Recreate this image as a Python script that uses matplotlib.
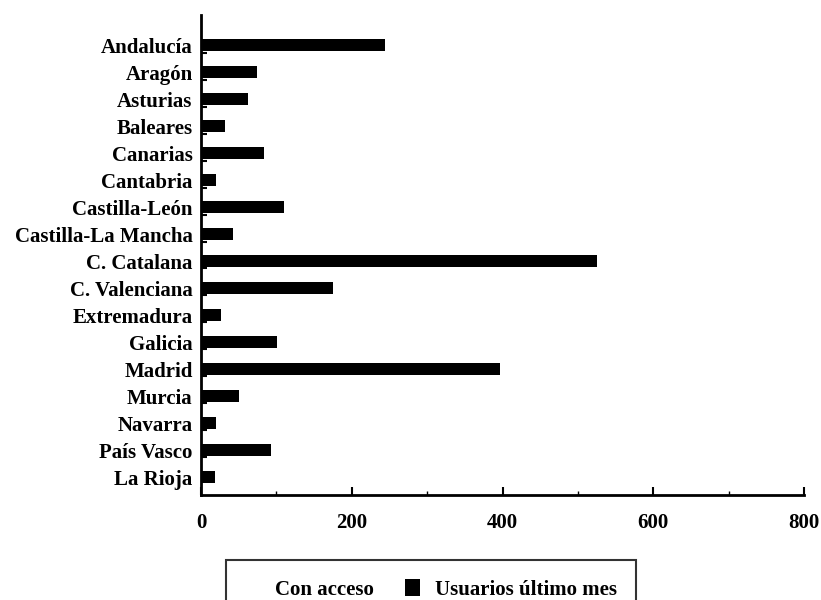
import matplotlib.pyplot as plt
from matplotlib import rcParams
from matplotlib.ticker import MultipleLocator, FixedLocator
import numpy as np

config = {"font.family": ['Liberation Serif', 'DejaVu Serif'],
          "font.weight": 'bold', "font.size": 15}
rcParams.update(config)

### datos ##########################################################
regiones = ["Andalucía", "Aragón", "Asturias", "Baleares", "Canarias",
            "Cantabria", "Castilla-León", "Castilla-La Mancha", "C. Catalana",
            "C. Valenciana", "Extremadura", "Galicia", "Madrid", "Murcia",
            "Navarra", "País Vasco", "La Rioja"]
con_acceso = [328, 92, 82, 42, 94, 21, 137, 47, 688, 259, 31, 143, 500,
              84, 41, 131, 23]
usuarios_mes = [244, 74, 62, 32, 84, 20, 110, 42, 525, 175, 26, 101, 397,
                50, 20, 93, 18]
xticks = [0, 200, 400, 600, 800]
####################################################################

pos = np.arange(len(regiones))
off = 0.22
hb = 0.47

fig = plt.figure(figsize=(8.21, 6.0), dpi=100)
ax = fig.add_axes([201/821, 1-495/600, (804-201)/821, (495-15)/600])

# serie "Con acceso" en blanco (no se ve en el original)
ax.barh(pos - off, con_acceso, height=hb, color='white', edgecolor='none',
        label="Con acceso")
ax.barh(pos + off, usuarios_mes, height=hb, color='black', edgecolor='none',
        label="Usuarios último mes")

ax.set_xlim(0, 800)
ax.set_ylim(len(regiones) - 1 + 0.89, -0.89)
ax.set_xticks(xticks)
ax.set_xticklabels([str(v) for v in xticks])
ax.xaxis.set_minor_locator(MultipleLocator(100))
ax.tick_params(axis='x', which='major', direction='in', length=6, width=1.5, pad=13)
ax.tick_params(axis='x', which='minor', direction='in', length=3, width=1)

ax.set_yticks(pos + 0.25)
ax.set_yticklabels(regiones)
ax.yaxis.set_minor_locator(FixedLocator(pos[:-1] + 0.5))
ax.tick_params(axis='y', which='major', length=0, pad=6)
ax.tick_params(axis='y', which='minor', direction='in', length=4, width=1.5)

for s in ['top', 'right']:
    ax.spines[s].set_visible(False)
for s in ['left', 'bottom']:
    ax.spines[s].set_linewidth(2)

leg = fig.legend(loc='upper left', bbox_to_anchor=(226/821, 1-560/600),
                 ncol=2, frameon=True, fancybox=False, edgecolor='black',
                 borderpad=0.9, handlelength=0.7, handleheight=0.9,
                 columnspacing=1.5, handletextpad=0.75, borderaxespad=0)
leg.get_frame().set_linewidth(1.5)

plt.savefig("out.png", dpi=100)
